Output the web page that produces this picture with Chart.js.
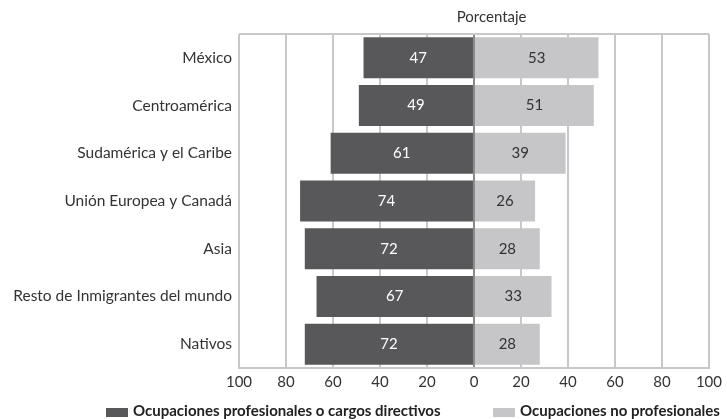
<!DOCTYPE html>
<html>
<head>
<meta charset="utf-8">
<script src="https://cdn.jsdelivr.net/npm/chart.js@4.4.1/dist/chart.umd.min.js"></script>
<style>
  html, body { margin: 0; padding: 0; background: #fff; }
  #wrap { width: 727px; height: 419px; }
</style>
</head>
<body>
<div id="wrap"><canvas id="chart" width="727" height="419"></canvas></div>
<script>
const categories = ['México', 'Centroamérica', 'Sudamérica y el Caribe', 'Unión Europea y Canadá', 'Asia', 'Resto de Inmigrantes del mundo', 'Nativos'];
const profesionales = [47, 49, 61, 74, 72, 67, 72];
const noProfesionales = [53, 51, 39, 26, 28, 33, 28];
const xTicks = [-100, -80, -60, -40, -20, 0, 20, 40, 60, 80, 100];

const dark = '#58585a';
const light = '#c6c6c8';
const fontFam = 'Lato, "Open Sans", sans-serif';

// value labels inside the bars
const barLabels = {
  id: 'barLabels',
  afterDatasetsDraw(chart) {
    const ctx = chart.ctx;
    ctx.save();
    ctx.font = '15px ' + fontFam;
    ctx.textAlign = 'center';
    ctx.textBaseline = 'middle';
    chart.data.datasets.forEach((ds, i) => {
      chart.getDatasetMeta(i).data.forEach((bar, j) => {
        const p = bar.getProps(['x', 'y', 'base'], true);
        ctx.fillStyle = i === 0 ? '#ffffff' : '#333333';
        ctx.fillText(Math.abs(ds.data[j]), (p.x + p.base) / 2, p.y);
      });
    });
    ctx.restore();
  }
};

// top frame line, "Porcentaje" header and bottom legend
const frame = {
  id: 'frame',
  beforeDatasetsDraw(chart) {
    const a = chart.chartArea, ctx = chart.ctx;
    ctx.save();
    ctx.strokeStyle = '#c8c8c8';
    ctx.lineWidth = 2;
    ctx.beginPath();
    ctx.moveTo(a.left, a.top);
    ctx.lineTo(a.right, a.top);
    ctx.stroke();
    ctx.restore();
  },
  afterDraw(chart) {
    const a = chart.chartArea, ctx = chart.ctx;
    ctx.save();
    ctx.font = '15px ' + fontFam;
    ctx.fillStyle = '#333';
    ctx.textAlign = 'center';
    ctx.textBaseline = 'middle';
    ctx.fillText('Porcentaje', chart.scales.x.getPixelForValue(7.5), a.top - 17);

    // legend
    const legendX = [106, 493];
    const y = chart.height - 7;
    ctx.font = 'bold 15px ' + fontFam;
    ctx.textAlign = 'left';
    chart.data.datasets.forEach((ds, i) => {
      ctx.fillStyle = ds.backgroundColor;
      ctx.fillRect(legendX[i], y - 4, 22, 9);
      ctx.fillStyle = '#222';
      ctx.fillText(ds.label, legendX[i] + 27, y - 1);
    });
    ctx.restore();
  }
};

new Chart(document.getElementById('chart'), {
  type: 'bar',
  data: {
    labels: categories,
    datasets: [
      { label: 'Ocupaciones profesionales o cargos directivos', data: profesionales.map(v => -v), backgroundColor: dark },
      { label: 'Ocupaciones no profesionales', data: noProfesionales, backgroundColor: light }
    ]
  },
  options: {
    indexAxis: 'y',
    responsive: false,
    animation: false,
    layout: { padding: { top: 34, right: 18, left: 0, bottom: 25 } },
    datasets: { bar: { categoryPercentage: 1, barPercentage: 0.86 } },
    scales: {
      x: {
        stacked: true,
        min: -100, max: 100,
        afterBuildTicks(scale) { scale.ticks = xTicks.map(v => ({ value: v })); },
        afterFit(scale) { scale.height = 26; },
        ticks: {
          color: '#333',
          font: { size: 15, family: fontFam },
          padding: 5,
          callback: v => Math.abs(v)
        },
        grid: {
          color: ctx => ctx.tick && ctx.tick.value === 0 ? '#8a8a8a' : '#c8c8c8',
          lineWidth: 2,
          drawTicks: false
        },
        border: { color: '#c8c8c8', width: 2 }
      },
      y: {
        stacked: true,
        afterFit(scale) { scale.width = 239; },
        ticks: { color: '#333', font: { size: 15.5, family: fontFam }, padding: 7 },
        grid: { display: false, drawTicks: false },
        border: { display: false }
      }
    },
    plugins: {
      legend: { display: false },
      tooltip: { enabled: false }
    }
  },
  plugins: [barLabels, frame]
});
</script>
</body>
</html>
